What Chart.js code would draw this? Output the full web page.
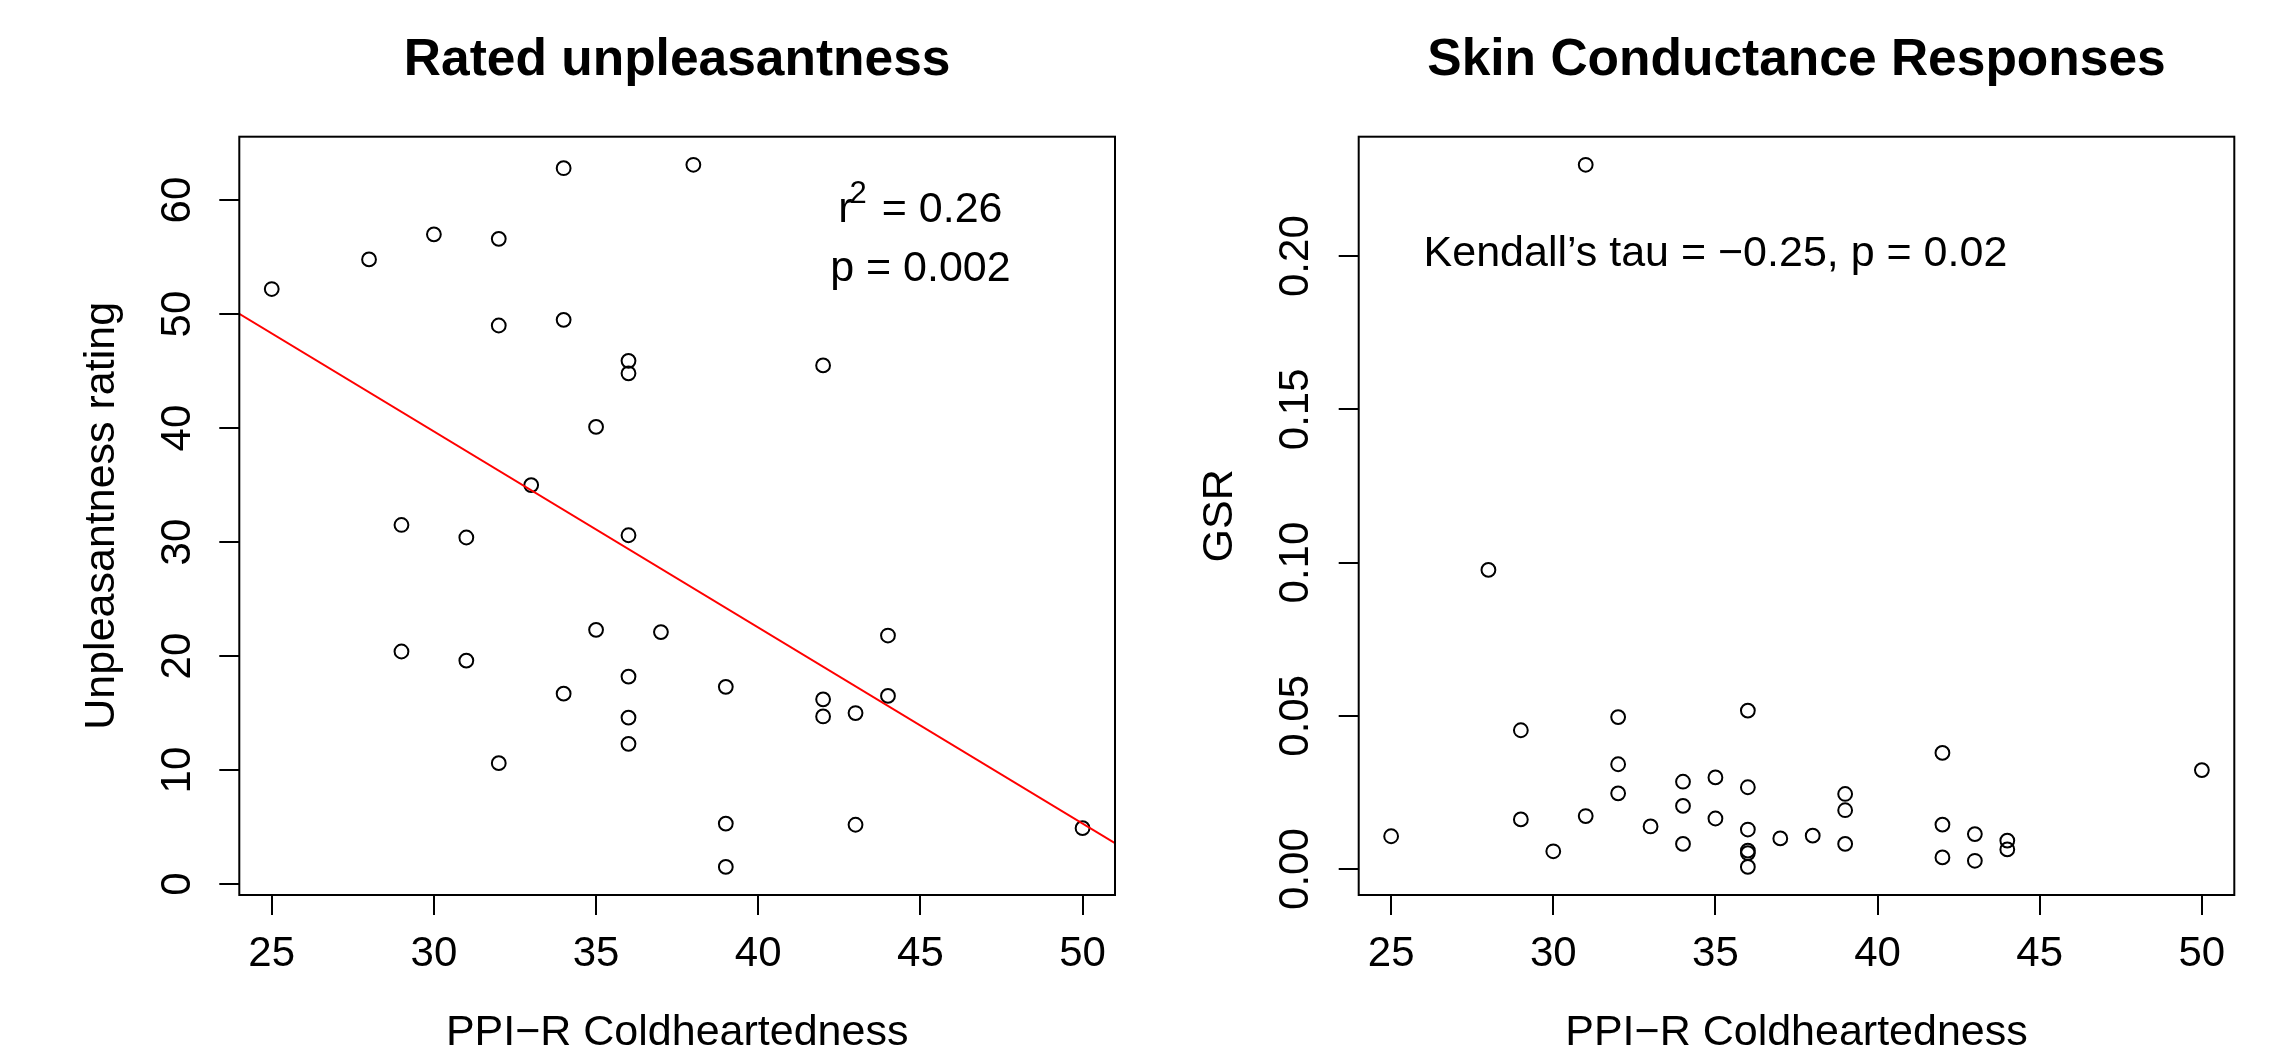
<!DOCTYPE html>
<html>
<head>
<meta charset="utf-8">
<title>Coldheartedness vs unpleasantness and GSR</title>
<script src="https://cdn.jsdelivr.net/npm/chart.js@4.4.0/dist/chart.umd.min.js"></script>
<style>
    html, body { margin: 0; padding: 0; background: #fff; }
    #chartLeft { position: absolute; left: 0; top: 0; }
    #chartRight { position: absolute; left: 1138px; top: 0; }
</style>
</head>
<body>
<canvas id="chartLeft" width="1138" height="1052"></canvas>
<canvas id="chartRight" width="1139" height="1052"></canvas>
<script>
// Painel esquerdo: nota de desagrado por PPI-R Coldheartedness
const unplX = [25, 28, 30, 32, 34, 38, 32, 34, 36, 36, 42, 35, 33, 29, 31, 36, 35, 37,
    44, 29, 31, 36, 34, 39, 42, 42, 43, 44, 36, 36, 32, 39, 43, 50, 39];
const unplY = [52.2, 54.8, 57.0, 56.6, 62.8, 63.1, 49.0, 49.5, 45.9, 44.8, 45.5, 40.1, 35.0, 31.5, 30.4, 30.6, 22.3, 22.1,
    21.8, 20.4, 19.6, 18.2, 16.7, 17.3, 16.2, 14.7, 15.0, 16.5, 14.6, 12.3, 10.6, 5.3, 5.2, 4.9, 1.5];

// Painel direito: GSR por PPI-R Coldheartedness
const gsrX = [25, 28, 29, 29, 30, 31, 31, 32, 32, 32, 33, 34, 34, 34, 35, 35, 36, 36,
    36, 36, 36, 36, 37, 38, 39, 39, 39, 42, 42, 42, 43, 43, 44, 44, 50];
const gsrY = [0.0107, 0.0976, 0.0453, 0.0162, 0.0058, 0.2298, 0.0173, 0.0496, 0.0342, 0.0247, 0.0139, 0.0285, 0.0206, 0.0082,
    0.0299, 0.0165, 0.0517, 0.0267, 0.0129, 0.0060, 0.0052, 0.0007, 0.0100, 0.0109, 0.0245, 0.0192, 0.0082,
    0.0379, 0.0145, 0.0038, 0.0114, 0.0027, 0.0093, 0.0064, 0.0323];

const xTicks = [25, 30, 35, 40, 45, 50];
const unplTicks = [0, 10, 20, 30, 40, 50, 60];
const gsrTicks = [0, 0.05, 0.10, 0.15, 0.20];

// reta de regressao (lm)
const fitIntercept = 91.3;
const fitSlope = -1.72;

// onde ficam os textos, em unidades dos eixos
const fitNoteX = 45;
const fitNoteY = [59.4, 54.3];
const tauNoteX = 35;
const tauNoteY = 0.2017;

const FONT = "'Liberation Sans', Arial, Helvetica, sans-serif";
Chart.defaults.font.family = FONT;
Chart.defaults.color = '#000';

// o R estende a faixa dos dados em 4% de cada lado
function rLimits(values) {
    const lo = Math.min(...values);
    const hi = Math.max(...values);
    const pad = (hi - lo) * 0.04;
    return [lo - pad, hi + pad];
}

function eixoX(valores) {
    const [min, max] = rLimits(valores);
    return {
        type: 'linear',
        min: min,
        max: max,
        afterBuildTicks: s => { s.ticks = xTicks.map(v => ({ value: v })); },
        afterFit: s => { s.height = 157; },
        grid: { drawOnChartArea: false, color: '#000', lineWidth: 2, tickLength: 20 },
        border: { display: false },
        ticks: { font: { size: 42 }, padding: 14, autoSkip: false, maxRotation: 0, callback: v => String(v) },
        title: { display: true, text: 'PPI\u2212R Coldheartedness', font: { size: 43 }, padding: { top: 0, bottom: -7 } }
    };
}

function eixoY(valores, ticks, largura, padLabel, padTitulo, titulo, formato) {
    const [min, max] = rLimits(valores);
    return {
        type: 'linear',
        min: min,
        max: max,
        afterBuildTicks: s => { s.ticks = ticks.map(v => ({ value: v })); },
        afterFit: s => { s.width = largura; },
        grid: { drawOnChartArea: false, color: '#000', lineWidth: 2, tickLength: 20 },
        border: { display: false },
        ticks: {
            font: { size: 42 }, padding: padLabel, autoSkip: false,
            minRotation: 90, maxRotation: 90, crossAlign: 'center',
            callback: formato
        },
        title: { display: true, text: titulo, font: { size: 43 }, padding: { top: padTitulo, bottom: 0 } }
    };
}

// caixa em volta da area do grafico, como o box() do R
const moldura = {
    id: 'moldura',
    afterDraw(chart) {
        const { ctx, chartArea: a } = chart;
        ctx.save();
        ctx.strokeStyle = '#000';
        ctx.lineWidth = 2;
        ctx.strokeRect(a.left, a.top, a.right - a.left, a.bottom - a.top);
        ctx.restore();
    }
};

const notaFit = {
    id: 'notaFit',
    afterDraw(chart) {
        const { ctx, scales: { x, y } } = chart;
        const cx = x.getPixelForValue(fitNoteX);
        const big = '43px ' + FONT;
        const small = '31px ' + FONT;
        ctx.save();
        ctx.fillStyle = '#000';
        ctx.textBaseline = 'alphabetic';
        ctx.font = big;
        const wR = ctx.measureText('r').width;
        const wResto = ctx.measureText(' = 0.26').width;
        ctx.font = small;
        const w2 = ctx.measureText('2').width;
        const base1 = y.getPixelForValue(fitNoteY[0]) + 0.36 * 43;
        let esq = cx - (wR + w2 + wResto) / 2;
        ctx.font = big;
        ctx.fillText('r', esq, base1);
        ctx.font = small;
        ctx.fillText('2', esq + wR - 3, base1 - 19);
        ctx.font = big;
        ctx.fillText(' = 0.26', esq + wR + w2, base1);
        ctx.textAlign = 'center';
        ctx.fillText('p = 0.002', cx, y.getPixelForValue(fitNoteY[1]) + 0.36 * 43);
        ctx.restore();
    }
};

const notaTau = {
    id: 'notaTau',
    afterDraw(chart) {
        const { ctx, scales: { x, y } } = chart;
        ctx.save();
        ctx.fillStyle = '#000';
        ctx.font = '43px ' + FONT;
        ctx.textAlign = 'center';
        ctx.textBaseline = 'alphabetic';
        ctx.fillText('Kendall\u2019s tau = \u22120.25, p = 0.02',
            x.getPixelForValue(tauNoteX), y.getPixelForValue(tauNoteY) + 0.36 * 43);
        ctx.restore();
    }
};

function pontos(xs, ys) {
    return xs.map((v, i) => ({ x: v, y: ys[i] }));
}

const estiloPonto = {
    showLine: false,
    pointStyle: 'circle',
    pointRadius: 6.9,
    pointBorderWidth: 2,
    pointBackgroundColor: 'rgba(0,0,0,0)',
    pointBorderColor: '#000'
};

const [xMin, xMax] = rLimits(unplX);

new Chart(document.getElementById('chartLeft'), {
    type: 'scatter',
    data: {
        datasets: [{
            type: 'line',
            data: [
                { x: xMin, y: fitIntercept + fitSlope * xMin },
                { x: xMax, y: fitIntercept + fitSlope * xMax }
            ],
            borderColor: '#ff0000',
            borderWidth: 2,
            pointRadius: 0,
            fill: false
        }, Object.assign({ data: pontos(unplX, unplY) }, estiloPonto)]
    },
    options: {
        responsive: false,
        animation: false,
        layout: { padding: { left: 0, right: 23, top: 0, bottom: 0 } },
        scales: {
            x: eixoX(unplX),
            y: eixoY(unplY, unplTicks, 239.3, 18, 76, 'Unpleasantness rating', v => String(v))
        },
        plugins: {
            legend: { display: false },
            tooltip: { enabled: false },
            title: {
                display: true,
                fullSize: false,
                text: 'Rated unpleasantness',
                font: { size: 51.5, weight: 'bold' },
                padding: { top: 30, bottom: 44.9 }
            }
        }
    },
    plugins: [moldura, notaFit]
});

new Chart(document.getElementById('chartRight'), {
    type: 'scatter',
    data: {
        datasets: [Object.assign({ data: pontos(gsrX, gsrY) }, estiloPonto)]
    },
    options: {
        responsive: false,
        animation: false,
        layout: { padding: { left: 0, right: 42.7, top: 0, bottom: 0 } },
        scales: {
            x: eixoX(gsrX),
            y: eixoY(gsrY, gsrTicks, 220.7, 1, 56, 'GSR', v => v.toFixed(2))
        },
        plugins: {
            legend: { display: false },
            tooltip: { enabled: false },
            title: {
                display: true,
                fullSize: false,
                text: 'Skin Conductance Responses',
                font: { size: 51.5, weight: 'bold' },
                padding: { top: 30, bottom: 44.9 }
            }
        }
    },
    plugins: [moldura, notaTau]
});
</script>
</body>
</html>
